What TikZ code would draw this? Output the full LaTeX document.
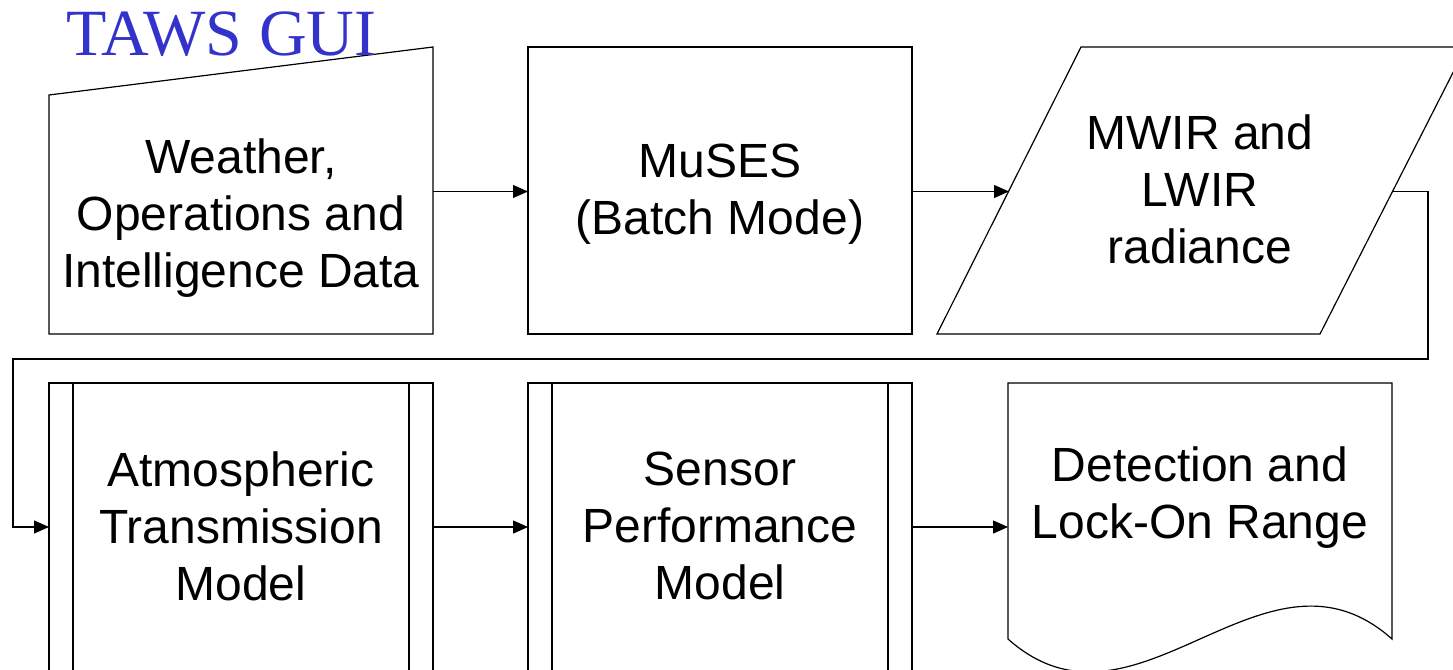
\documentclass[tikz,border=0pt]{standalone}
\usepackage{fontspec}
\setmainfont{Liberation Sans}
\newfontfamily\timesfont{Liberation Serif}
\usetikzlibrary{arrows.meta}
\definecolor{tawsblue}{RGB}{51,51,204}
\begin{document}
\begin{tikzpicture}[x=1pt,y=-1pt,
  shp/.style={draw=black, line width=1.2pt, line join=miter},
  frame/.style={draw=none, inner sep=0pt, outer sep=0pt, minimum width=384pt, minimum height=287pt},
  txt/.style={align=center, inner sep=0pt, font=\fontsize{48}{57}\selectfont},
  arr/.style={draw=black, line width=1.2pt, -{Triangle[length=15pt,width=13pt]}}]
\useasboundingbox (0,0) rectangle (1453,669);
\clip (0,0) rectangle (1453,669);

% invisible frames for connector anchors
\node[frame] (wx)    at (241,191.5) {};
\node[frame] (muses) at (720,191.5) {};
\node[frame, minimum width=383pt] (rad) at (1200.5,191.5) {};
\node[frame] (atm)   at (241,527) {};
\node[frame] (sen)   at (720,527) {};
\node[frame] (det)   at (1200,527) {};

% shapes
\draw[shp] (49,95) -- (433,47) -- (433,334) -- (49,334) -- cycle;
\draw[shp] (528,47) rectangle (912,334);
\draw[shp] (937,334) -- (1081,47) -- (1466,47) -- (1320,334) -- cycle;
\draw[shp] (49,383) rectangle (433,700);
\draw[shp] (73,383) -- (73,700) (409,383) -- (409,700);
\draw[shp] (528,383) rectangle (912,700);
\draw[shp] (552,383) -- (552,700) (888,383) -- (888,700);
\draw[shp] (1008,639) -- (1008,383) -- (1392,383) -- (1392,639)
  .. controls (1264,525) and (1136,753) .. (1008,639);

% texts
\node[txt] (wxt)  at (241,218) {Weather,\\Operations and\\Intelligence Data};
\node[txt] (mut)  at (720,194) {MuSES\\(Batch Mode)};
\node[txt] (radt) at (1200,189) {MWIR and\\LWIR\\radiance};
\node[txt] (atmt) at (241,526) {Atmospheric\\Transmission\\Model};
\node[txt] (sent) at (720,526) {Sensor\\Performance\\Model};
\node[txt] (dett) at (1200,498) {Detection and\\Lock-On Range};
\node[font=\timesfont\fontsize{66}{66}\selectfont, text=tawsblue, inner sep=0pt, anchor=base west] (title) at (66,56) {TAWS GUI};

% connectors
\coordinate (c1) at (1428,359);
\coordinate (c2) at (13,359);
\draw[arr] (wx.east) -- (muses.west);
\draw[arr] (muses.east) -- (rad.west);
\draw[arr] (rad.east) -| (c1) -- (c2) |- (atm.west);
\draw[arr] (atm.east) -- (sen.west);
\draw[arr] (sen.east) -- (det.west);
\end{tikzpicture}
\end{document}
